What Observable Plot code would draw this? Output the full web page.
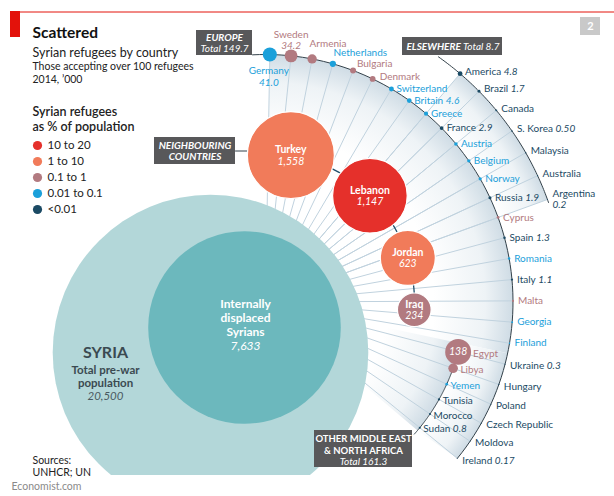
<!DOCTYPE html>
<html><head><meta charset="utf-8">
<script src="https://cdn.jsdelivr.net/npm/d3@7"></script>
<script src="https://cdn.jsdelivr.net/npm/@observablehq/plot@0.6"></script>
<style>
html,body{margin:0;padding:0;background:#fff;}
#chart{width:614px;height:496px;overflow:hidden;}
</style></head><body><div id="chart"></div>
<script>
// ---------------- DATA ----------------
const shareCategories = ["10 to 20", "1 to 10", "0.1 to 1", "0.01 to 0.1", "<0.01"];
const shareColors = ["#e5302b", "#f17b5a", "#b27a80", "#1ba0da", "#1b4a64"];

const europeNames = ["Germany","Sweden","Armenia","Netherlands","Bulgaria","Denmark","Switzerland","Britain","Greece","France","Austria","Belgium","Norway","Russia","Cyprus","Spain","Romania","Italy","Malta","Georgia","Finland","Ukraine","Hungary","Poland","Czech Republic","Moldova","Ireland"];
const europeValues = [41.0,34.2,18,8,7.5,7,5,4.6,3.6,2.9,2.6,2.3,2.1,1.9,1.6,1.3,1.2,1.1,0.9,0.7,0.5,0.3,0.28,0.25,0.22,0.2,0.17];
const europeValueLabels = ["41.0","34.2","","","","","","4.6","","2.9","","","","1.9","","1.3","","1.1","","","","0.3","","","","","0.17"];
const europeShares = ["0.01 to 0.1","0.1 to 1","0.1 to 1","0.01 to 0.1","0.1 to 1","0.1 to 1","0.01 to 0.1","0.01 to 0.1","0.01 to 0.1","<0.01","0.01 to 0.1","0.01 to 0.1","0.01 to 0.1","<0.01","0.1 to 1","<0.01","0.01 to 0.1","<0.01","0.1 to 1","0.01 to 0.1","0.01 to 0.1","<0.01","<0.01","<0.01","<0.01","<0.01","<0.01"];

const elsewhereNames = ["America","Brazil","Canada","S. Korea","Malaysia","Australia","Argentina"];
const elsewhereValues = [4.8,1.7,0.8,0.5,0.35,0.3,0.2];
const elsewhereValueLabels = ["4.8","1.7","","0.50","","","0.2"];
const elsewhereShares = ["<0.01","<0.01","<0.01","<0.01","<0.01","<0.01","<0.01"];

const neighbourNames = ["Turkey","Lebanon","Jordan","Iraq"];
const neighbourValues = [1558,1147,623,234];
const neighbourValueLabels = ["1,558","1,147","623","234"];
const neighbourShares = ["1 to 10","10 to 20","1 to 10","0.1 to 1"];

const otherMenaNames = ["Egypt","Libya","Yemen","Tunisia","Morocco","Sudan"];
const otherMenaValues = [138,19,1.5,1.1,0.9,0.8];
const otherMenaValueLabels = ["138","","","","","0.8"];
const otherMenaShares = ["0.1 to 1","0.1 to 1","0.01 to 0.1","<0.01","<0.01","<0.01"];

const syriaValues = [20500, 7633];          // total pre-war population, internally displaced
const syriaValueLabels = ["20,500", "7,633"];
const syriaLines = ["Total pre-war", "population"];
const idpLines = ["Internally", "displaced", "Syrians"];

const groupTitles = ["EUROPE", "ELSEWHERE"];
const neighbourBoxLines = ["NEIGHBOURING", "COUNTRIES"];
const menaBoxLines = ["OTHER MIDDLE EAST", "& NORTH AFRICA"];
const groupTotals = ["Total 149.7", "Total 8.7", "Total 161.3"];

const titleText = "Scattered";
const subtitleText = "Syrian refugees by country";
const noteLines = ["Those accepting over 100 refugees", "2014, \u2019000"];
const legendTitle = ["Syrian refugees", "as % of population"];
const sourceLines = ["Sources:", "UNHCR; UN"];

// ---------------- LAYOUT ----------------
const L = {
  W: 614, H: 496, frameBottom: 475,
  cx: 265, cy: 301.5,            // centre of the fan
  theta0: 1.0, step: 4.93,       // angular slots (degrees, clockwise from north)
  rEurope: 247.5, rElse: 300, rMena: 199, rNeigh: 149,
  elseSlot0: 8, menaSlot0: 21,
  turkeyAngle: 9.8, gap: 8,
  syriaR: 157.8, syria: [210, 352], idp: [244, 327]
};
const rad = d => d * Math.PI / 180;
const P = (t, R) => ({x: L.cx + R * Math.sin(rad(t)), y: L.cy - R * Math.cos(rad(t))});
const slot = i => L.theta0 + i * L.step;
const arcPts = (a0, a1, R, n = 80) => d3.range(n + 1).map(k => P(a0 + (a1 - a0) * k / n, R));
const rOf = d3.scaleSqrt().domain([0, syriaValues[0]]).range([0, L.syriaR]);

const rec = (names, values, vlabels, shares, angleFn, R) => names.map((name, i) => {
  const t = angleFn(i);
  return {name, value: values[i], vlabel: vlabels[i], share: shares[i], theta: t, r: rOf(values[i]), ...P(t, R)};
});
const europe = rec(europeNames, europeValues, europeValueLabels, europeShares, i => slot(i), L.rEurope);
const elsewhere = rec(elsewhereNames, elsewhereValues, elsewhereValueLabels, elsewhereShares, i => slot(L.elseSlot0 + i), L.rElse);
const otherMena = rec(otherMenaNames, otherMenaValues, otherMenaValueLabels, otherMenaShares, i => slot(L.menaSlot0 + i), L.rMena);
let ang = L.turkeyAngle;
const neighbourAngles = neighbourValues.map((v, i) => {
  if (i > 0) ang += 2 * Math.asin((rOf(neighbourValues[i - 1]) + rOf(v) + L.gap) / (2 * L.rNeigh)) * 180 / Math.PI;
  return ang;
});
const neighbours = rec(neighbourNames, neighbourValues, neighbourValueLabels, neighbourShares, i => neighbourAngles[i], L.rNeigh);

// text measuring
const ctx = document.createElement("canvas").getContext("2d");
const FONT = "Lato";
const tw = (s, size, weight = "normal", style = "normal") => { ctx.font = `${style} ${weight} ${size}px ${FONT}`; return ctx.measureText(s).width; };
const LS = 10; // label font size

// labels
const startLabels = [], midLabels = [];
function addStart(d, x, y) {
  startLabels.push({name: d.name, vlabel: d.vlabel, share: d.share, x, y, vx: x + tw(d.name + " ", LS)});
}
europe.forEach((d, i) => {
  if (i === 0) { midLabels.push({t: d.name, x: d.x - 1, y: d.y + 16, share: d.share, it: false}, {t: d.vlabel, x: d.x - 1, y: d.y + 28, share: d.share, it: true}); return; }
  if (i === 1) { midLabels.push({t: d.name, x: d.x, y: d.y - 21, share: d.share, it: false}, {t: d.vlabel, x: d.x, y: d.y - 10, share: d.share, it: true}); return; }
  if (i < 6) { addStart(d, d.x - 2.5 + (d.theta - 11) * 0.65, d.y - 15 + (d.theta - 11) * 0.85); return; }
  addStart(d, d.x + 5, d.y + (d.theta > 100 ? 2 : 0));
});
const endLabels = [];
elsewhere.forEach((d, i) => {
  if (i === elsewhere.length - 1) {
    startLabels.push({name: d.name, vlabel: "", share: d.share, x: d.x + 5, y: d.y - 6, vx: 0});
    endLabels.push({t: d.vlabel, x: d.x + 5, y: d.y + 5, share: d.share});
  } else addStart(d, d.x + 5, d.y - 2);
});
const inCircle = [];
otherMena.forEach(d => {
  if (d.vlabel && d.r > 8) { inCircle.push(d); startLabels.push({name: d.name, vlabel: "", share: d.share, x: d.x + d.r + 2, y: d.y + 1.5, vx: 0}); }
  else addStart(d, d.x + Math.max(d.r, 0.8) + 2.5, d.y + 1.5);
});

// fan shapes
const menaStart = slot(L.menaSlot0) - 2.6, fanEnd = slot(europe.length - 1);
const wedgeMain = [{x: L.cx, y: L.cy}, ...arcPts(slot(0), menaStart, L.rEurope)];
const wedgeMenaIn = [{x: L.cx, y: L.cy}, ...arcPts(menaStart, fanEnd + 1, L.rMena)];
const bandMena = [...arcPts(menaStart, fanEnd, L.rEurope), ...arcPts(fanEnd + 1, menaStart, L.rMena)];
const bandElse = [...arcPts(slot(L.elseSlot0), slot(L.elseSlot0 + elsewhere.length - 1), L.rElse), ...arcPts(slot(L.elseSlot0 + elsewhere.length - 1), slot(L.elseSlot0), L.rEurope)];

const rays = [...europe, ...elsewhere];
const arcEurope = arcPts(-3, fanEnd, L.rEurope);
const arcElse = arcPts(35.2, slot(L.elseSlot0 + elsewhere.length - 1) + 0.6, L.rElse);
const arcMena = arcPts(slot(L.menaSlot0), 131.6, L.rMena);
const arcNeigh = arcPts(neighbourAngles[0], neighbourAngles[neighbourAngles.length - 1], L.rNeigh);

// annotation boxes
const boxes = [
  {x1: 196, x2: 252, y1: 30, y2: 55, fill: "#58585a"},
  {x1: 402, x2: 502, y1: 37, y2: 55, fill: "#58585a"},
  {x1: 154, x2: 235, y1: 137, y2: 164, fill: "#58585a"},
  {x1: 314, x2: 412, y1: 430, y2: 467, fill: "#58585a"},
  {x1: 580, x2: 600, y1: 17, y2: 35, fill: "#c9c9c9"}
];
const neighConnector = [{x: 235, y: 150.5}, {x: neighbours[0].x - neighbours[0].r, y: 150.5}];

const syriaDots = [
  {v: syriaValues[0], x: L.syria[0], y: L.syria[1], fill: "#b3d7d9"},
  {v: syriaValues[1], x: L.idp[0], y: L.idp[1], fill: "#6cb8bd"}
];

const BS = 10; // box font size
const plot = Plot.plot({
  width: L.W, height: L.H,
  marginTop: 0, marginLeft: 0, marginRight: 0, marginBottom: L.H - L.frameBottom,
  x: {domain: [0, L.W], range: [0, L.W], axis: null},
  y: {domain: [0, L.frameBottom], range: [0, L.frameBottom], axis: null},
  r: {type: "sqrt", domain: [0, syriaValues[0]], range: [0, L.syriaR]},
  color: {domain: shareCategories, range: shareColors},
  style: {fontFamily: FONT + ", sans-serif", background: "#fff", overflow: "visible"},
  marks: [
    // header decoration
    Plot.ruleY([11.5], {x1: 10, x2: L.W, stroke: "#e3120b", strokeWidth: 1}),
    Plot.rect([0], {x1: 10, x2: 20, y1: 11, y2: 37, fill: "#e3120b"}),
    // fan shading
    Plot.line(wedgeMain, {x: "x", y: "y", fill: "url(#gMain)", stroke: "none"}),
    Plot.line(wedgeMenaIn, {x: "x", y: "y", fill: "url(#gMena)", stroke: "none"}),
    Plot.line(bandMena, {x: "x", y: "y", fill: "url(#gBand)", stroke: "none"}),
    Plot.line(bandElse, {x: "x", y: "y", fill: "url(#gElse)", stroke: "none"}),
    // rays
    Plot.link(rays, {x1: L.cx, y1: L.cy, x2: "x", y2: "y", stroke: "#c0d2de", strokeWidth: 1}),
    // Syria
    Plot.dot(syriaDots, {x: "x", y: "y", r: "v", fill: "fill", stroke: "none", clip: true}),
    // arcs
    Plot.line(arcEurope, {x: "x", y: "y", stroke: "#33414a", strokeWidth: 1}),
    Plot.line(arcElse, {x: "x", y: "y", stroke: "#33414a", strokeWidth: 1}),
    Plot.line(arcMena, {x: "x", y: "y", stroke: "#33414a", strokeWidth: 1}),
    Plot.line(arcNeigh, {x: "x", y: "y", stroke: "#1f4e6b", strokeWidth: 1.3}),
    Plot.line(neighConnector, {x: "x", y: "y", stroke: "#33414a", strokeWidth: 1}),
    // small dots
    Plot.dot([...europe, ...elsewhere, ...otherMena], {x: "x", y: "y", r: "value", fill: "share", stroke: "none"}),
    // neighbouring circles
    Plot.dot(neighbours, {x: "x", y: "y", r: "value", fill: "share", stroke: "#fff", strokeWidth: 1.2}),
    Plot.text(neighbours, {x: "x", y: d => d.y - 5.5, text: "name", fill: "#fff", fontWeight: "bold", fontSize: 10.5}),
    Plot.text(neighbours, {x: "x", y: d => d.y + 6, text: "vlabel", fill: "#fff", fontStyle: "italic", fontSize: 10.5}),
    Plot.text(inCircle, {x: "x", y: "y", text: "vlabel", fill: "#fff", fontStyle: "italic", fontSize: 10.5}),
    // country labels
    Plot.text(startLabels, {x: "x", y: "y", text: "name", fill: "share", textAnchor: "start", fontSize: LS}),
    Plot.text(startLabels.filter(d => d.vlabel), {x: "vx", y: "y", text: "vlabel", fill: "share", textAnchor: "start", fontSize: LS, fontStyle: "italic"}),
    Plot.text(endLabels, {x: "x", y: "y", text: "t", fill: "share", textAnchor: "start", fontSize: LS, fontStyle: "italic"}),
    Plot.text(midLabels.filter(d => !d.it), {x: "x", y: "y", text: "t", fill: "share", fontSize: LS}),
    Plot.text(midLabels.filter(d => d.it), {x: "x", y: "y", text: "t", fill: "share", fontSize: LS, fontStyle: "italic"}),
    // Syria labels
    Plot.text(["SYRIA"], {x: 105, y: 352, text: d => d, fill: "#3b4a51", fontWeight: "bold", fontSize: 16}),
    Plot.text(syriaLines, {x: 105, y: (d, i) => 369.5 + i * 13, text: d => d, fill: "#3b4a51", fontWeight: "bold", fontSize: 11.5}),
    Plot.text([syriaValueLabels[0]], {x: 105, y: 396, text: d => d, fill: "#4a5a61", fontStyle: "italic", fontSize: 11.5}),
    Plot.text(idpLines, {x: 245, y: (d, i) => 304 + i * 14, text: d => d, fill: "#fff", fontWeight: "bold", fontSize: 12}),
    Plot.text([syriaValueLabels[1]], {x: 245, y: 346, text: d => d, fill: "#fff", fontStyle: "italic", fontSize: 12}),
    // boxes
    Plot.rect(boxes, {x1: "x1", x2: "x2", y1: "y1", y2: "y2", fill: "fill"}),
    Plot.text([groupTitles[0]], {x: 224, y: 37.5, text: d => d, fill: "#fff", fontWeight: "bold", fontStyle: "italic", fontSize: BS}),
    Plot.text([groupTotals[0]], {x: 224, y: 48.5, text: d => d, fill: "#fff", fontStyle: "italic", fontSize: BS}),
    Plot.text([groupTitles[1]], {x: 406, y: 46, text: d => d, fill: "#fff", fontWeight: "bold", fontStyle: "italic", fontSize: BS, textAnchor: "start"}),
    Plot.text([groupTotals[1]], {x: 406 + tw(groupTitles[1] + " ", BS, "bold", "italic"), y: 46, text: d => d, fill: "#fff", fontStyle: "italic", fontSize: BS, textAnchor: "start"}),
    Plot.text(neighbourBoxLines, {x: 194.5, y: (d, i) => 145.5 + i * 10.5, text: d => d, fill: "#fff", fontWeight: "bold", fontStyle: "italic", fontSize: BS}),
    Plot.text(menaBoxLines, {x: 363, y: (d, i) => 438.5 + i * 11.5, text: d => d, fill: "#fff", fontWeight: "bold", fontSize: 9.5}),
    Plot.text([groupTotals[2]], {x: 363, y: 461, text: d => d, fill: "#fff", fontStyle: "italic", fontSize: BS}),
    Plot.text(["2"], {x: 590, y: 26, text: d => d, fill: "#fff", fontWeight: "bold", fontSize: 11}),
    // title block
    Plot.text([titleText], {x: 32, y: 33, text: d => d, fill: "#111", fontWeight: "bold", fontSize: 15.5, textAnchor: "start"}),
    Plot.text([subtitleText], {x: 32, y: 52, text: d => d, fill: "#222", fontSize: 12.5, textAnchor: "start"}),
    Plot.text(noteLines, {x: 32, y: (d, i) => 66 + i * 13, text: d => d, fill: "#222", fontSize: 10.5, textAnchor: "start"}),
    // legend
    Plot.text(legendTitle, {x: 32, y: (d, i) => 111.5 + i * 15, text: d => d, fill: "#222", fontWeight: 600, fontSize: 12.5, textAnchor: "start"}),
    Plot.dot(shareCategories, {x: 37, y: (d, i) => 145 + i * 16, r: 4.6, fill: d => d}),
    Plot.text(shareCategories, {x: 47, y: (d, i) => 145 + i * 16, text: d => d, fill: "#222", fontSize: 11.5, textAnchor: "start"}),
    // sources
    Plot.text(sourceLines, {x: 32, y: (d, i) => 460 + i * 12.5, text: d => d, fill: "#222", fontSize: 10.5, textAnchor: "start"}),
    Plot.text(["Economist.com"], {x: 11, y: 486, text: d => d, fill: "#8a8a8a", fontSize: 10.5, textAnchor: "start"})
  ]
});

// gradients
const defs = d3.create("svg:defs");
function radial(id, r, whiteAt) {
  const g = defs.append("radialGradient").attr("id", id).attr("gradientUnits", "userSpaceOnUse")
    .attr("cx", L.cx).attr("cy", L.cy).attr("r", r);
  g.append("stop").attr("offset", whiteAt).attr("stop-color", "#ffffff");
  g.append("stop").attr("offset", whiteAt + (1 - whiteAt) * 0.65).attr("stop-color", "#eef3f6");
  g.append("stop").attr("offset", 1).attr("stop-color", "#cfdce5");
}
radial("gMain", L.rEurope, 0.68);
radial("gMena", L.rMena, 0.62);
radial("gBand", L.rEurope, L.rMena / L.rEurope);
radial("gElse", L.rElse, L.rEurope / L.rElse);
plot.insertBefore(defs.node(), plot.firstChild);
document.getElementById("chart").appendChild(plot);
</script></body></html>
